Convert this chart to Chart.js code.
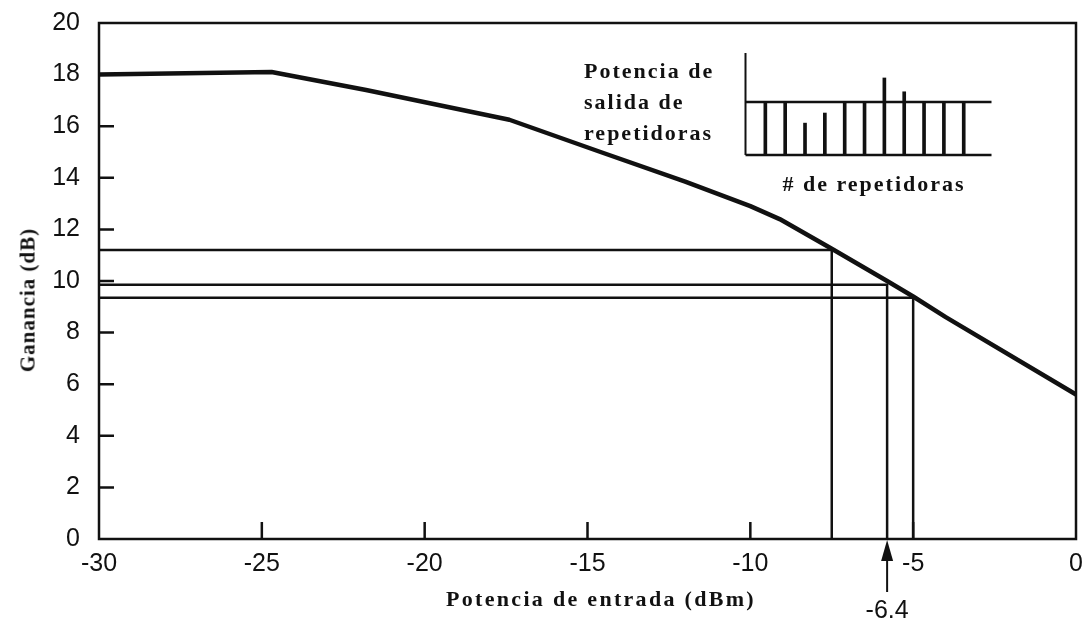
<!DOCTYPE html>
<html>
<head>
<meta charset="utf-8">
<script src="https://cdn.jsdelivr.net/npm/chart.js@4.4.1/dist/chart.umd.min.js"></script>
<style>
  html, body { margin: 0; padding: 0; background: #fff; }
  #wrap { position: relative; width: 1087px; height: 626px; overflow: hidden; }
  #main { position: absolute; left: 0; top: 0; }
  #inset-box { position: absolute; left: 715px; top: 45px; width: 307px; height: 120px; }
  .lbl { position: absolute; font-family: "Liberation Serif", "Times New Roman", serif; font-weight: bold; color: #111; white-space: nowrap; }
  #ytitle { left: 28px; top: 300px; font-size: 21px; letter-spacing: 1px; transform: translate(-50%, -50%) rotate(-90deg); }
  #xtitle { left: 601px; top: 599px; font-size: 22px; letter-spacing: 2.3px; transform: translate(-50%, -50%); }
  #inset-y { left: 584px; top: 55px; font-size: 22px; letter-spacing: 2px; line-height: 31px; }
  #inset-x { left: 874px; top: 184px; font-size: 22px; letter-spacing: 2px; transform: translate(-50%, -50%); }
</style>
</head>
<body>
<div id="wrap">
  <canvas id="main" width="1087" height="626"></canvas>
  <div id="inset-box"><canvas id="inset"></canvas></div>
  <div class="lbl" id="ytitle">Ganancia (dB)</div>
  <div class="lbl" id="xtitle">Potencia de entrada (dBm)</div>
  <div class="lbl" id="inset-y">Potencia de<br>salida de<br>repetidoras</div>
  <div class="lbl" id="inset-x"># de repetidoras</div>
</div>
<script>
/* ===== DATA ===== */
const curveX = [-30, -24.7, -21.8, -17.4, -14.6, -12, -10, -9.1, -7.5, -5.8, -5.0, -4.0, 0];
const curveY = [18.0, 18.1, 17.4, 16.25, 15.0, 13.85, 12.9, 12.4, 11.25, 10.0, 9.4, 8.6, 5.6];

// horizontal/vertical guide lines: gain level and input power where they meet the curve
const guideX = [-7.5, -5.8, -5.0];
const guideY = [11.2, 9.85, 9.35];

const xTicks = [-30, -25, -20, -15, -10, -5, 0];
const yTicks = [0, 2, 4, 6, 8, 10, 12, 14, 16, 18, 20];

const arrowAt    = -5.8;
const arrowLabel = '-6.4';

// inset: output power per repeater (1 = nominal level)
const repeaters   = [1, 2, 3, 4, 5, 6, 7, 8, 9, 10, 11];
const repeaterOut = [1, 1, 0.6, 0.79, 1, 1, 1.45, 1.19, 1, 1, 1];
const nominalOut  = 1;

/* ===== MAIN CHART ===== */
const INK = '#111';
const tickFont = { family: '"Liberation Sans", Arial, Helvetica, sans-serif', size: 25 };

const guideSets = guideX.map((gx, i) => ({
  data: [{ x: -30, y: guideY[i] }, { x: gx, y: guideY[i] }, { x: gx, y: 0 }],
  borderColor: INK, borderWidth: 2.5, pointRadius: 0, tension: 0, clip: false
}));

const frame = {
  id: 'frame',
  afterDatasetsDraw(chart) {
    const { ctx, chartArea: a, scales: { x, y } } = chart;
    ctx.save();
    ctx.strokeStyle = INK;
    ctx.lineWidth = 2.5;
    ctx.strokeRect(a.left, a.top, a.right - a.left, a.bottom - a.top);
    ctx.beginPath();
    yTicks.slice(1, -1).forEach(v => {
      const py = y.getPixelForValue(v);
      ctx.moveTo(a.left, py); ctx.lineTo(a.left + 15, py);
    });
    xTicks.slice(1, -1).forEach(v => {
      const px = x.getPixelForValue(v);
      ctx.moveTo(px, a.bottom); ctx.lineTo(px, a.bottom - 17);
    });
    ctx.stroke();
    // arrow under the axis
    const ax = x.getPixelForValue(arrowAt);
    ctx.lineWidth = 2;
    ctx.beginPath();
    ctx.moveTo(ax, a.bottom + 53); ctx.lineTo(ax, a.bottom + 14);
    ctx.stroke();
    ctx.fillStyle = INK;
    ctx.beginPath();
    ctx.moveTo(ax, a.bottom + 1);
    ctx.lineTo(ax - 6, a.bottom + 22);
    ctx.lineTo(ax + 6, a.bottom + 22);
    ctx.closePath();
    ctx.fill();
    ctx.font = '25px "Liberation Sans", Arial, sans-serif';
    ctx.textAlign = 'center';
    ctx.textBaseline = 'middle';
    ctx.fillText(arrowLabel, ax, a.bottom + 72);
    ctx.restore();
  }
};

new Chart(document.getElementById('main'), {
  type: 'line',
  data: {
    datasets: [{
      data: curveX.map((v, i) => ({ x: v, y: curveY[i] })),
      borderColor: INK, borderWidth: 4.5, pointRadius: 0, tension: 0, clip: false,
      borderJoinStyle: 'round'
    }, ...guideSets]
  },
  options: {
    responsive: false,
    animation: false,
    layout: { padding: { top: 23, right: 11, left: 0, bottom: 0 } },
    plugins: { legend: { display: false }, tooltip: { enabled: false } },
    scales: {
      x: {
        type: 'linear', min: -30, max: 0,
        afterFit: s => { s.height = 87; s.paddingLeft = 0; s.paddingRight = 0; },
        afterBuildTicks: s => { s.ticks = xTicks.map(v => ({ value: v })); },
        grid: { display: false, drawTicks: false },
        border: { display: false },
        ticks: { color: INK, font: tickFont, padding: 10, maxRotation: 0 }
      },
      y: {
        min: 0, max: 20,
        afterFit: s => { s.width = 99; s.paddingTop = 0; s.paddingBottom = 0; },
        afterBuildTicks: s => { s.ticks = yTicks.map(v => ({ value: v })); },
        grid: { display: false, drawTicks: false },
        border: { display: false },
        ticks: { color: INK, font: tickFont, padding: 19 }
      }
    }
  },
  plugins: [frame]
});

/* ===== INSET ===== */
const insetCanvas = document.getElementById('inset');
insetCanvas.width = 307; insetCanvas.height = 120;
new Chart(insetCanvas, {
  type: 'bar',
  data: {
    datasets: [{
      data: repeaters.map((r, i) => ({ x: r, y: repeaterOut[i] })),
      backgroundColor: INK, barThickness: 3
    }, {
      type: 'line',
      data: [{ x: 0, y: nominalOut }, { x: 12.4, y: nominalOut }],
      borderColor: INK, borderWidth: 2.5, pointRadius: 0, clip: false
    }, {
      type: 'line',
      data: [{ x: 0, y: 0 }, { x: 12.4, y: 0 }],
      borderColor: INK, borderWidth: 2.5, pointRadius: 0, clip: false
    }, {
      type: 'line',
      data: [{ x: 0, y: 0 }, { x: 0, y: 1.92 }],
      borderColor: INK, borderWidth: 2, pointRadius: 0, clip: false
    }]
  },
  options: {
    responsive: false,
    animation: false,
    layout: { padding: { left: 10, top: 8, right: 10, bottom: 10 } },
    plugins: { legend: { display: false }, tooltip: { enabled: false } },
    scales: {
      x: { type: 'linear', min: 0, max: 12.4, display: false },
      y: { min: 0, max: 1.92, display: false }
    }
  }
});
</script>
</body>
</html>
